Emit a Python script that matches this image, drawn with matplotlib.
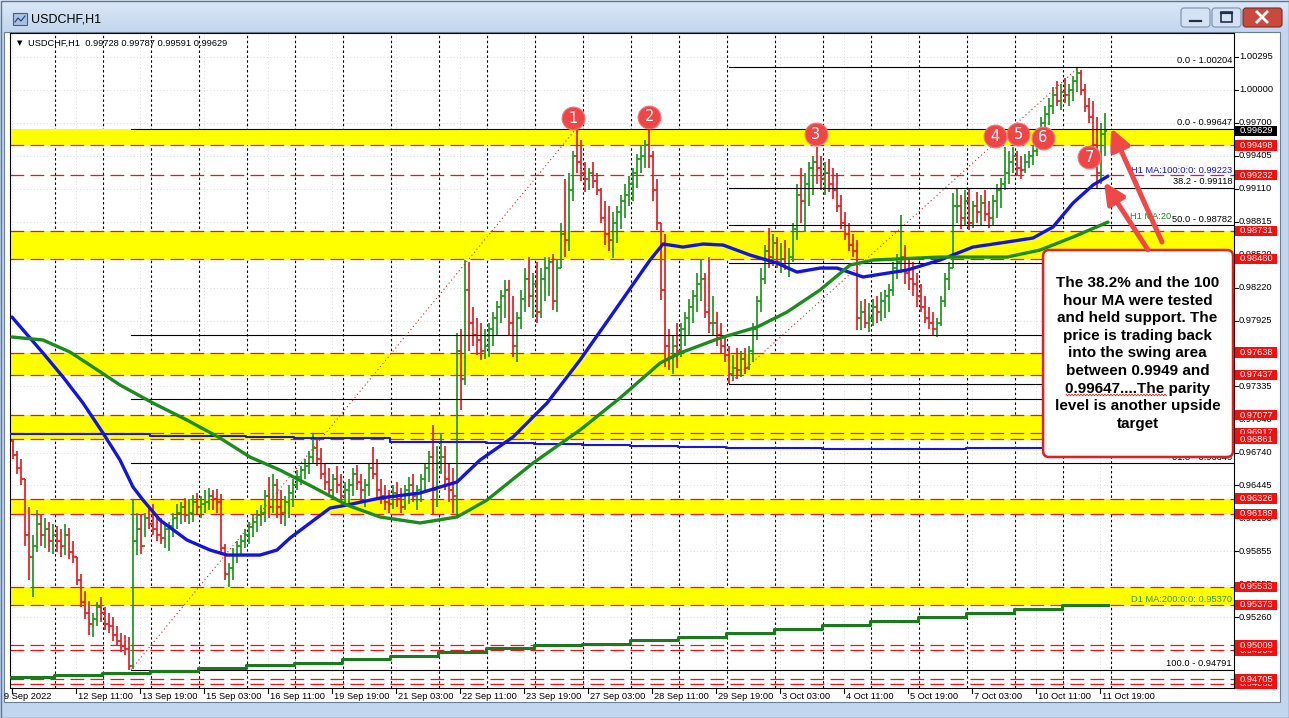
import matplotlib
matplotlib.use("Agg")
import numpy as np
import matplotlib.pyplot as plt
from matplotlib.patches import Rectangle, FancyBboxPatch
from matplotlib.collections import LineCollection
from matplotlib.colors import LinearSegmentedColormap

plt.rcParams['font.family'] = ['Liberation Sans', 'DejaVu Sans']

# ---------------- DATA ----------------
# 2-hour OHLC bars of USDCHF (pips, 1e-4), first bar = 9 Sep 2022 03:00; bar j covers H1 bars 2j, 2j+1
first_open = 9684
bar_high = [9686,9675,9668,9650,9625,9600,9622,9618,9615,9612,9610,9608,9605,9610,9606,9595,9580,9565,9550,9541,
            9530,9540,9544,9535,9530,9526,9518,9512,9510,9508,9632,9620,9618,9620,9625,9628,9618,9615,9610,9612,
            9620,9628,9630,9633,9632,9636,9638,9635,9640,9642,9640,9641,9637,9592,9575,9588,9595,9600,9605,9612,
            9618,9622,9627,9640,9652,9655,9650,9640,9635,9645,9650,9658,9662,9668,9675,9691,9688,9678,9665,9660,
            9655,9662,9655,9648,9650,9660,9663,9655,9650,9665,9679,9668,9650,9645,9640,9645,9648,9642,9645,9652,
            9655,9645,9655,9665,9675,9699,9680,9692,9680,9665,9660,9781,9785,9847,9845,9805,9795,9790,9785,9790,
            9800,9810,9820,9829,9829,9815,9800,9820,9840,9850,9835,9845,9840,9850,9850,9852,9848,9880,9920,9925,
            9945,9965,9955,9935,9930,9935,9925,9912,9900,9895,9890,9895,9905,9915,9922,9930,9942,9950,9955,9965,
            9945,9920,9880,9870,9785,9780,9790,9790,9800,9812,9820,9835,9847,9835,9850,9815,9800,9790,9780,9770,
            9762,9768,9765,9768,9770,9790,9815,9840,9860,9876,9870,9868,9862,9865,9858,9880,9915,9930,9925,9935,
            9940,9948,9940,9935,9938,9930,9925,9905,9890,9880,9870,9865,9810,9812,9808,9812,9815,9818,9820,9825,
            9845,9852,9887,9860,9850,9845,9835,9825,9815,9805,9800,9795,9815,9835,9845,9907,9912,9905,9910,9912,
            9900,9908,9905,9910,9900,9905,9915,9921,9948,9945,9948,9945,9940,9942,9945,9950,9965,9975,9985,9992,
            10002,10008,10005,10010,10005,10012,10020,10018,10005,9992,9990,9975,9970,9979]
bar_low = [9668,9655,9645,9590,9560,9544,9585,9590,9588,9585,9583,9585,9580,9582,9578,9575,9555,9535,9525,9510,
           9508,9518,9522,9515,9512,9505,9500,9495,9492,9479,9480,9582,9583,9598,9605,9600,9595,9592,9588,9586,
           9598,9605,9610,9612,9610,9612,9618,9615,9620,9622,9622,9620,9582,9560,9553,9560,9575,9583,9588,9592,
           9598,9603,9608,9612,9615,9620,9615,9610,9608,9615,9625,9640,9645,9650,9655,9665,9662,9650,9640,9635,
           9632,9638,9630,9625,9625,9635,9640,9630,9625,9635,9650,9632,9628,9622,9620,9623,9625,9620,9622,9628,
           9630,9622,9630,9640,9648,9618,9625,9655,9640,9630,9620,9616,9712,9735,9765,9770,9762,9757,9758,9760,
           9770,9780,9790,9795,9780,9760,9755,9785,9800,9805,9795,9790,9795,9810,9815,9802,9800,9840,9850,9855,
           9900,9925,9918,9908,9910,9912,9905,9880,9860,9855,9849,9862,9875,9885,9895,9900,9912,9925,9930,9930,
           9900,9874,9811,9751,9748,9745,9750,9760,9770,9780,9790,9800,9810,9795,9781,9780,9770,9763,9755,9736,
           9738,9740,9742,9745,9748,9755,9775,9800,9825,9840,9842,9840,9835,9838,9832,9845,9865,9880,9872,9895,
           9905,9915,9910,9905,9908,9902,9890,9875,9865,9855,9850,9784,9784,9786,9782,9788,9790,9792,9795,9800,
           9815,9830,9835,9825,9820,9815,9805,9800,9790,9785,9780,9778,9788,9805,9820,9840,9880,9875,9878,9874,
           9876,9880,9878,9882,9876,9878,9885,9894,9910,9915,9925,9922,9920,9925,9930,9932,9940,9955,9962,9968,
           9978,9985,9982,9988,9985,9990,9998,9995,9980,9970,9943,9912,9915,9940]
bar_close = [9672,9660,9650,9600,9580,9590,9610,9600,9605,9595,9600,9595,9590,9600,9585,9580,9560,9540,9530,9520,
             9525,9535,9530,9520,9518,9510,9505,9500,9498,9482,9595,9605,9590,9615,9610,9605,9600,9597,9605,9608,
             9615,9620,9625,9618,9620,9630,9625,9628,9630,9635,9632,9630,9588,9565,9570,9582,9590,9595,9600,9607,
             9612,9618,9620,9635,9625,9645,9625,9620,9630,9638,9645,9652,9658,9662,9670,9678,9668,9655,9648,9640,
             9650,9645,9635,9640,9645,9655,9648,9640,9645,9660,9655,9640,9635,9630,9628,9638,9632,9625,9640,9645,
             9635,9640,9650,9660,9670,9640,9665,9670,9650,9640,9635,9765,9740,9820,9790,9780,9775,9765,9770,9785,
             9795,9805,9815,9820,9790,9770,9795,9812,9830,9815,9825,9800,9830,9840,9845,9810,9840,9870,9865,9910,
             9940,9935,9925,9920,9925,9918,9910,9885,9870,9865,9880,9890,9900,9905,9915,9925,9938,9940,9950,9940,
             9910,9880,9820,9770,9760,9770,9765,9785,9795,9805,9815,9825,9830,9800,9790,9790,9780,9770,9762,9745,
             9750,9748,9758,9750,9765,9785,9810,9830,9855,9850,9862,9845,9848,9840,9850,9875,9905,9900,9915,9930,
             9935,9930,9920,9925,9915,9910,9895,9880,9870,9860,9855,9795,9800,9790,9795,9805,9800,9810,9815,9820,
             9840,9845,9850,9835,9830,9825,9815,9805,9795,9790,9785,9790,9810,9830,9840,9895,9895,9885,9900,9880,
             9895,9890,9898,9888,9885,9900,9910,9915,9925,9935,9940,9930,9928,9935,9940,9945,9960,9970,9978,9985,
             9995,9990,9998,9995,10000,10008,10015,10000,9985,9975,9950,9925,9960,9963]

# moving averages (H1 bar index, price)
h1_ma100_bar = [0,15.5,25.5,35.5,45.5,54,60.5,65.5,74,87.5,99,107.5,124,132.5,139,159,167.5,184,204,222.5,
                234,250.5,267.5,284,300.5,319,325.5,335.5,345.5,355.5,369,382.5,392.5,404,412.5,425.5,447.5,
                464,480.5,497.5,510.5,520.5,530.5,540.5,548]
h1_ma100_val = [0.97957,0.97634,0.97419,0.97185,0.96916,0.96673,0.96431,0.96314,0.96134,0.95955,0.95865,
                0.95820,0.95820,0.95865,0.95973,0.96242,0.96269,0.96332,0.96377,0.96476,0.96673,0.96880,
                0.97185,0.97571,0.97993,0.98469,0.98613,0.98586,0.98613,0.98604,0.98514,0.98442,0.98361,
                0.98397,0.98397,0.98317,0.98379,0.98469,0.98586,0.98631,0.98667,0.98766,0.98981,0.99143,0.99223]
h1_ma200_bar = [0,15.5,29,40.5,54,70.5,87.5,104,119,134,150.5,167.5,184,204,222.5,237.5,260.5,284,304,324,
                334,354,372.5,387.5,404,419,430.5,464,497.5,514,530.5,548]
h1_ma200_val = [0.97778,0.97751,0.97643,0.97508,0.97347,0.97185,0.97032,0.96871,0.96700,0.96583,0.96431,
                0.96269,0.96162,0.96108,0.96162,0.96314,0.96646,0.96943,0.97230,0.97544,0.97634,0.97769,
                0.97867,0.98002,0.98200,0.98424,0.98469,0.98496,0.98496,0.98559,0.98676,0.98810]
day_start_bar = [-1,21,45,69,93,117,141,165,189,213,237,261,285,309,333,357,381,405,429,453,477,501,525]
d1_ma200_val = [0.94725,0.94739,0.94761,0.94777,0.94810,0.94837,0.94851,0.94882,0.94915,0.94949,0.94986,
                0.95012,0.95024,0.95057,0.95084,0.95120,0.95156,0.95192,0.95228,0.95263,0.95299,0.95335,0.95370]
d1_ma100_val = [0.96907,0.96907,0.96907,0.96891,0.96891,0.96882,0.96871,0.96871,0.96838,0.96832,0.96823,
                0.96817,0.96808,0.96799,0.96790,0.96785,0.96781,0.96776,0.96776,0.96776,0.96781,0.96785,0.96790]
last_bar = 548

# horizontal levels
yellow_bands = [(0.99498, 0.99647), (0.98480, 0.98731), (0.97437, 0.97638),
                (0.96861, 0.97077), (0.96189, 0.96326), (0.95373, 0.95533)]
red_levels = [0.99498, 0.99232, 0.98731, 0.98480, 0.97638, 0.97437, 0.97077, 0.96917, 0.96861,
              0.96326, 0.96189, 0.95533, 0.95373, 0.95009, 0.94964, 0.94705, 0.94663]
red_levels_underneath = [0.96917, 0.94964, 0.94663]
current_price = 0.99629

# fibonacci retracements
fib1 = dict(low=0.94791, high=0.99647, bar_low=59.5, bar_high=282, labelled=[0.0, 61.8, 100.0])
fib2 = dict(low=0.97360, high=1.00204, bar_low=358.5, bar_high=533.5, labelled=[0.0, 38.2, 50.0])
fib_levels = [0.0, 38.2, 50.0, 61.8, 100.0]

# axes
price_ticks = [1.00295, 1.00000, 0.99700, 0.99405, 0.99110, 0.98815, 0.98520, 0.98220, 0.97925, 0.97630,
               0.97335, 0.97040, 0.96740, 0.96445, 0.96150, 0.95855, 0.95555, 0.95260, 0.94965, 0.94670]
time_tick_bar = [0,32,64,96,128,160,192,224,256,288,320,352,384,416,448,480,512,544]
time_tick_labels = ["9 Sep 2022", "12 Sep 11:00", "13 Sep 19:00", "15 Sep 03:00", "16 Sep 11:00",
                    "19 Sep 19:00", "21 Sep 03:00", "22 Sep 11:00", "23 Sep 19:00", "27 Sep 03:00",
                    "28 Sep 11:00", "29 Sep 19:00", "3 Oct 03:00", "4 Oct 11:00", "5 Oct 19:00",
                    "7 Oct 03:00", "10 Oct 11:00", "11 Oct 19:00"]

# numbered swing highs
marker_nums = ["1", "2", "3", "4", "5", "6", "7"]
marker_bar = [280.5, 318.7, 402, 491.5, 503, 515.3, 538.7]
marker_price = [0.99742, 0.99756, 0.99598, 0.99583, 0.99598, 0.99568, 0.99391]

note_text = ("The 38.2% and the 100\nhour MA were tested\nand held support. The\nprice is trading back\n"
             "into the swing area\nbetween 0.9949 and\n0.99647....The parity\nlevel is another upside\ntarget")
header = "USDCHF,H1  0.99728 0.99787 0.99591 0.99629"

# ---------------- FIGURE ----------------
W, H = 1289, 718
fig = plt.figure(figsize=(W / 100, H / 100), dpi=100)
fig.patch.set_facecolor('#c3d6ef')

bg = fig.add_axes([0, 0, 1, 1], zorder=0)
bg.set_xlim(0, W); bg.set_ylim(H, 0); bg.axis('off')
cm = LinearSegmentedColormap.from_list('tb', ['#dce8f7', '#c2d6ef'])
bg.imshow(np.linspace(0, 1, 40).reshape(-1, 1), extent=(0, W, 32, 0), cmap=cm, aspect='auto', zorder=0)
bg.add_patch(Rectangle((0.5, 0.5), W - 1, H - 1, fc='none', ec='#5f7595', lw=1, zorder=1))
bg.add_patch(Rectangle((4, 32), 1276, 670, fc='white', ec='#6d7f98', lw=0.8, zorder=1))
# window icon and title
bg.add_patch(Rectangle((13, 13), 14, 12, fc='#a9c0e0', ec='#3d5f92', lw=0.8, zorder=2))
bg.plot([15, 18, 21, 25], [22, 18, 21, 16], color='#1d3f80', lw=0.8, zorder=3)
bg.text(31, 20, "USDCHF,H1", fontsize=9, va='center', ha='left', color='black', zorder=3)
# caption buttons
for x0, wd, fc, ec in [(1181, 29, '#d5e2f3', '#7a8fae'), (1212, 29, '#d5e2f3', '#7a8fae'),
                       (1243, 39, '#c9493f', '#7d2a24')]:
    bg.add_patch(FancyBboxPatch((x0, 8), wd, 19, boxstyle='round,pad=0,rounding_size=3',
                                fc=fc, ec=ec, lw=0.8, zorder=2))
bg.plot([1190, 1201], [21, 21], color='#23304a', lw=1.6, zorder=3)
bg.add_patch(Rectangle((1221, 12), 11, 10, fc='none', ec='#23304a', lw=1.2, zorder=3))
bg.plot([1221, 1232], [13, 13], color='#23304a', lw=1.6, zorder=3)
bg.plot([1257, 1267], [12, 22], color='white', lw=2.0, zorder=3)
bg.plot([1257, 1267], [22, 12], color='white', lw=2.0, zorder=3)

# main chart axes
ax = fig.add_axes([10 / W, (H - 688) / H, 1224 / W, 655 / H], zorder=2)
ax.set_xlim(-1, 611)
ax.set_ylim(0.94626, 1.00508)
ax.set_facecolor('white')
ax.set_xticks([]); ax.set_yticks([])
for s in ax.spines.values():
    s.set_color('black'); s.set_linewidth(0.8)
ytr = ax.get_yaxis_transform()
xtr = ax.get_xaxis_transform()
PX_X = 1 / 1224.0
PX_P = (1.00508 - 0.94626) / 655.0

# grid
for p in price_ticks:
    ax.axhline(p, color='#cfcfcf', lw=0.6, ls=(0, (1, 3)), zorder=0.5)
for b in time_tick_bar:
    ax.axvline(b, color='#cfcfcf', lw=0.6, ls=(0, (1, 3)), zorder=0.5)
for d in day_start_bar[1:] + [549]:
    ax.axvline(d + 0.6, color='black', lw=0.8, ls=(0, (2.2, 2.2)), zorder=0.6)

# yellow zones and red lines
for lo, hi in yellow_bands:
    ax.axhspan(lo, hi, color='#ffff00', lw=0, zorder=1)
for p in red_levels:
    ax.axhline(p, color='#e3191b', lw=0.9, ls=(0, (11, 5)), zorder=2.5)

# fibonacci
for f in (fib1, fib2):
    rng = f['high'] - f['low']
    for lv in fib_levels:
        pr = f['high'] - lv / 100.0 * rng
        ax.plot([f['bar_low'], 611], [pr, pr], color='black', lw=0.8, zorder=3.5)
        if lv in f['labelled']:
            ax.annotate("%.1f - %.5f" % (lv, pr), xy=(0.9984, pr), xycoords=ytr, xytext=(0, 1),
                        textcoords='offset points', ha='right', va='bottom', fontsize=6.7,
                        color='black', zorder=3.6)
    ax.plot([f['bar_low'], f['bar_high']], [f['low'], f['high']], color='#d02525', lw=0.8,
            ls=(0, (1, 2.6)), zorder=3.5)

# D1 moving averages (stepped)
xs = day_start_bar + [last_bar]
ax.step(xs, d1_ma200_val + [d1_ma200_val[-1]], where='post', color='#1b7a1b', lw=2.2, zorder=4)
ax.step(xs, d1_ma100_val + [d1_ma100_val[-1]], where='post', color='#1717d8', lw=1.5, zorder=4)

# OHLC bars
segs_up, segs_dn = [], []
prev = first_open
for j, (hh, ll, cc) in enumerate(zip(bar_high, bar_low, bar_close)):
    x = 2 * j + 0.5
    o = prev
    seg = [[(x, ll / 1e4), (x, hh / 1e4)], [(x - 0.9, o / 1e4), (x, o / 1e4)],
           [(x, cc / 1e4), (x + 0.9, cc / 1e4)]]
    (segs_up if cc >= o else segs_dn).extend(seg)
    prev = cc
ax.add_collection(LineCollection(segs_up, colors='#1f961f', linewidths=1.25, zorder=3))
ax.add_collection(LineCollection(segs_dn, colors='#e31e24', linewidths=1.25, zorder=3))

# H1 moving averages
ax.plot(h1_ma100_bar, h1_ma100_val, color='#1414e0', lw=2.4, solid_capstyle='round', zorder=5)
ax.plot(h1_ma200_bar, h1_ma200_val, color='#1b8c1b', lw=2.4, solid_capstyle='round', zorder=5)

# indicator labels
ax.annotate("H1 MA:100:0:0: 0.99223", xy=(0.9984, h1_ma100_val[-1]), xycoords=ytr, xytext=(0, 1),
            textcoords='offset points', ha='right', va='bottom', fontsize=6.7, color='#1010e0', zorder=6)
ax.annotate("H1 MA:20", xy=(0.915, h1_ma200_val[-1]), xycoords=ytr, xytext=(0, 1),
            textcoords='offset points', ha='left', va='bottom', fontsize=6.7, color='#1b8c1b', zorder=6)
ax.annotate("D1 MA:200:0:0: 0.95370", xy=(0.9984, d1_ma200_val[-1]), xycoords=ytr, xytext=(0, 1),
            textcoords='offset points', ha='right', va='bottom', fontsize=6.7, color='#2f9a2f', zorder=6)

# header
ax.text(0.0075, 0.9847, "\u25bc", transform=ax.transAxes, fontsize=5, va='center', ha='center',
        family='DejaVu Sans', zorder=6)
ax.text(0.0147, 0.9847, header, transform=ax.transAxes, fontsize=6.7, va='center', ha='left', zorder=6)

# swing markers
ax.scatter(marker_bar, marker_price, s=270, color='#ee4646', edgecolors='#f37a7a', linewidths=0.8, zorder=7)
for n, b, p in zip(marker_nums, marker_bar, marker_price):
    ax.text(b, p, n, color='white', fontsize=10.5, ha='center', va='center', family='DejaVu Sans', zorder=8)

# annotation box
box = FancyBboxPatch((0.8440, 0.3527), 0.1552, 0.3160, boxstyle='round,pad=0,rounding_size=0.005',
                     mutation_aspect=1.85, transform=ax.transAxes, fc='white', ec='#e02020', lw=1.8,
                     zorder=9, clip_on=False)
ax.add_patch(box)
ax.text(0.9212, 0.5108, note_text, transform=ax.transAxes, ha='center', va='center', fontsize=11,
        fontweight='bold', linespacing=1.33, color='black', zorder=10)

# arrows
for tail, tip in [((575, 0.98631), (549.5, 0.99655)), ((568, 0.98560), (546, 0.99170))]:
    ax.annotate('', xy=tip, xytext=tail,
                arrowprops=dict(arrowstyle='-|>,head_width=0.6,head_length=1.25', lw=3.6,
                                color='#f04848', shrinkA=0, shrinkB=0), zorder=11)

# right price scale
for p in price_ticks:
    ax.plot([1.0, 1.0 + 4 * PX_X], [p, p], transform=ytr, color='black', lw=0.8, clip_on=False, zorder=6)
    ax.text(1.0041, p, "%.5f" % p, transform=ytr, fontsize=6.7, va='center', ha='left',
            color='black', clip_on=False, zorder=6)
order = red_levels_underneath + [p for p in red_levels if p not in red_levels_underneath]
for k, p in enumerate(order):
    z = 12 + 0.1 * k
    ax.add_patch(Rectangle((1.0012, p - 5.2 * PX_P), 42 * PX_X, 10.4 * PX_P, transform=ytr,
                           fc='#f01010', ec='none', clip_on=False, zorder=z))
    ax.text(1.0182, p, "%.5f" % p, transform=ytr, fontsize=6.7, va='center', ha='center',
            color='white', clip_on=False, zorder=z + 0.05)
ax.add_patch(Rectangle((1.0012, current_price - 5.2 * PX_P), 42 * PX_X, 10.4 * PX_P, transform=ytr,
                       fc='black', ec='none', clip_on=False, zorder=15))
ax.text(1.0182, current_price, "%.5f" % current_price, transform=ytr, fontsize=6.7, va='center',
        ha='center', color='white', clip_on=False, zorder=15.1)

# time scale
for k, (b, lab) in enumerate(zip(time_tick_bar, time_tick_labels)):
    ax.plot([b, b], [0, -5 / 655], transform=xtr, color='black', lw=0.8, clip_on=False)
    dx = -8 if k == 0 else 2
    ax.annotate(lab, xy=(b, 0), xycoords=xtr, xytext=(dx * 0.72, -8.7 * 0.72), textcoords='offset points',
                ha='left', va='center', fontsize=6.7, color='black', annotation_clip=False)

# spell-check squiggle under "0.99647....The" in the note
top = fig.add_axes([0, 0, 1, 1], zorder=20)
top.set_xlim(0, W); top.set_ylim(H, 0); top.axis('off'); top.patch.set_alpha(0)
sq_x = np.arange(1066, 1168, 1.5)
top.plot(sq_x, 395 + 0.8 * np.where(np.arange(len(sq_x)) % 2 == 0, -1, 1), color='#e02020', lw=0.6)

fig.savefig('out.png', dpi=100, facecolor=fig.get_facecolor())
